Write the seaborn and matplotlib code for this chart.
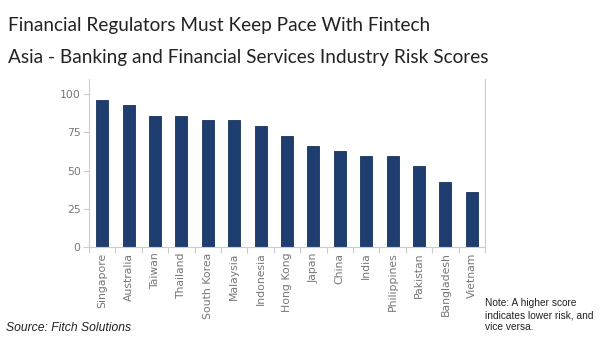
import matplotlib
matplotlib.use("Agg")
import matplotlib.pyplot as plt
import seaborn as sns
import pandas as pd
from matplotlib.ticker import FixedLocator

# Risk scores
countries = ["Singapore", "Australia", "Taiwan", "Thailand", "South Korea", "Malaysia",
             "Indonesia", "Hong Kong", "Japan", "China", "India", "Philippines",
             "Pakistan", "Bangladesh", "Vietnam"]
scores = [96.2, 92.7, 85.9, 85.9, 83.0, 83.0, 79.3, 72.7, 66.1, 62.6, 59.5, 59.5,
          52.9, 42.4, 36.0]
df = pd.DataFrame({"Country": countries, "Score": scores})

sns.set_theme(style="white")
plt.rcParams["font.family"] = ["DejaVu Sans"]

fig = plt.figure(figsize=(6, 3.6), dpi=100)
ax = fig.add_axes([89 / 600, 1 - 247 / 360, (485 - 89) / 600, (247 - 79) / 360])

sns.barplot(data=df, x="Country", y="Score", color="#1f3e70", width=0.45,
            saturation=1, edgecolor="#17325c", linewidth=0.6, ax=ax)

ax.set_xlim(-0.5, len(countries) - 0.5)
ax.set_ylim(0, 110)
ax.set_yticks([0, 25, 50, 75, 100])
ax.set_xlabel("")
ax.set_ylabel("")

for side in ["left", "bottom", "right"]:
    ax.spines[side].set_color("#cccccc")
    ax.spines[side].set_linewidth(0.8)
ax.spines["top"].set_visible(False)

ax.tick_params(axis="y", colors="#cccccc", labelcolor="#777777", labelsize=7.8,
               length=4, width=0.8, left=True, pad=2)
ax.tick_params(axis="x", which="major", labelcolor="#777777", labelsize=7.8,
               length=0, rotation=90, pad=4)
ax.xaxis.set_minor_locator(FixedLocator([i - 0.5 for i in range(len(countries) + 1)]))
ax.tick_params(axis="x", which="minor", colors="#cccccc", length=4, width=0.8, bottom=True)

fig.text(8 / 600, 1 - 26 / 360, "Financial Regulators Must Keep Pace With Fintech",
         family="Lato", fontsize=13.7, color="#222222", va="center", ha="left")
fig.text(8 / 600, 1 - 58 / 360, "Asia - Banking and Financial Services Industry Risk Scores",
         family="Lato", fontsize=13.7, color="#222222", va="center", ha="left")

fig.text(6 / 600, 1 - 328 / 360, "Source: Fitch Solutions", family="Liberation Sans",
         style="italic", fontsize=8.7, color="#222222", va="center", ha="left")
fig.text(485 / 600, 1 - 315 / 360, "Note: A higher score\nindicates lower risk, and\nvice versa.",
         family="Liberation Sans", fontsize=7.3, color="#222222", va="center", ha="left",
         linespacing=1.25)

fig.savefig("out.png", dpi=100, facecolor="white")
